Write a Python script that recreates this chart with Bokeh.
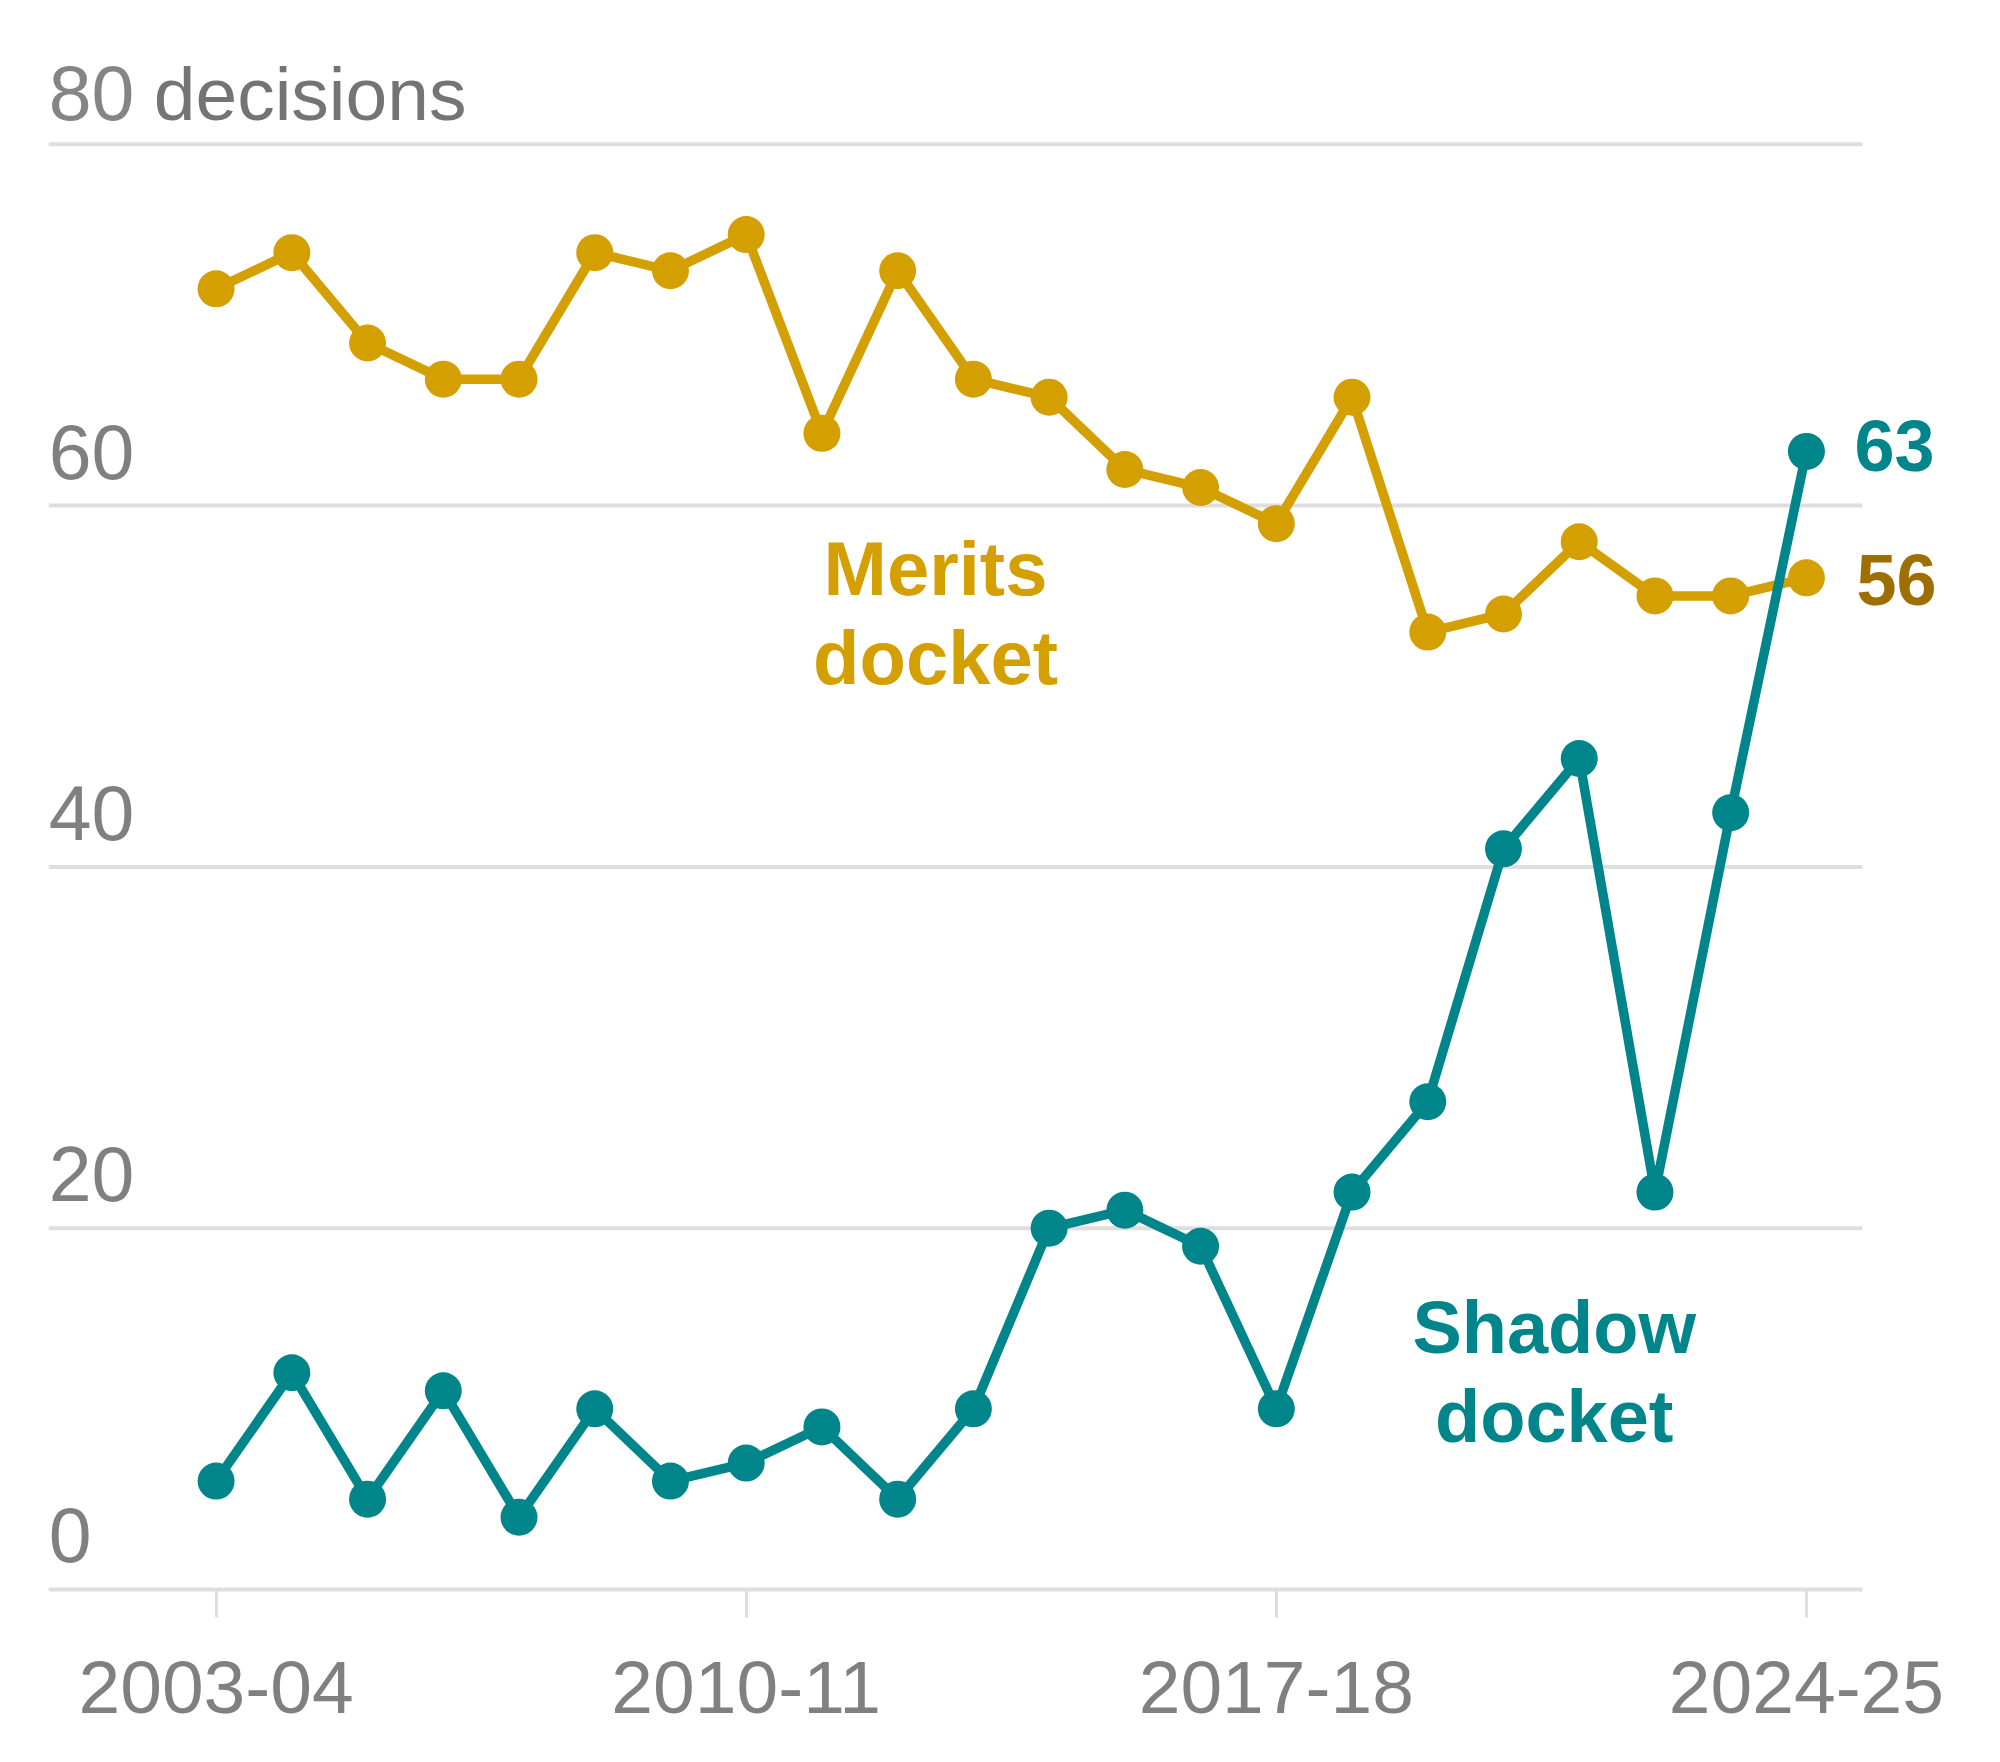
from bokeh.plotting import figure
from bokeh.models import Range1d, FixedTicker, ColumnDataSource
from bokeh.core.properties import value
from bokeh.embed import file_html
from bokeh.resources import INLINE

# Supreme Court terms, 2003-04 through 2024-25
seasons = [f"{y}-{str(y + 1)[-2:]}" for y in range(2003, 2025)]
merits = [72, 74, 69, 67, 67, 74, 73, 75, 64, 73, 67, 66, 62, 61, 59, 66, 53, 54, 58, 55, 55, 56]
shadow = [6, 12, 5, 11, 4, 10, 6, 7, 9, 5, 10, 20, 21, 19, 10, 22, 27, 41, 46, 22, 43, 63]
grid_values = [0, 20, 40, 60, 80]
tick_terms = ["2003-04", "2010-11", "2017-18", "2024-25"]

GOLD = "#d49f00"
GOLD_DARK = "#9e6e00"
TEAL = "#00858a"
GRID = "#dedede"
GRAY = "#808080"
FONT = "Liberation Sans"

idx = list(range(len(seasons)))

p = figure(width=2000, height=1762, output_backend="svg", toolbar_location=None,
           x_range=Range1d(-2.847, 23.563), y_range=Range1d(-0.609, 87.96),
           min_border_left=0, min_border_right=0, min_border_top=0,
           min_border_bottom=162)
p.outline_line_color = None
p.background_fill_color = "white"
p.border_fill_color = "white"
p.xgrid.visible = False
p.ygrid.visible = False
p.yaxis.visible = False

# bottom axis: term labels only
xa = p.xaxis[0]
xa.ticker = FixedTicker(ticks=[seasons.index(t) for t in tick_terms])
xa.major_label_overrides = {seasons.index(t): t for t in tick_terms}
xa.axis_line_color = None
xa.minor_tick_line_color = None
xa.major_tick_line_color = GRID
xa.major_tick_line_width = 3
xa.major_tick_in = 11
xa.major_tick_out = 17
xa.major_label_standoff = 44
xa.major_label_text_font = FONT
xa.major_label_text_font_size = "75px"
xa.major_label_text_color = GRAY

# horizontal gridlines
gx0, gx1 = -2.21, 21.74
p.segment(x0=[gx0] * len(grid_values), x1=[gx1] * len(grid_values),
          y0=grid_values, y1=grid_values, line_color=GRID, line_width=4)

# gridline labels sitting above each line
labels = [str(v) for v in grid_values[:-1]]
p.text(x=[gx0] * len(labels), y=grid_values[:-1], text=labels,
       text_font=value(FONT), text_font_size="77px", text_color=GRAY,
       text_baseline="bottom", text_align="left", y_offset=-27)
p.text(x=[gx0], y=[grid_values[-1]], text=["80"],
       text_font=value(FONT), text_font_size="77px", text_color="#858585",
       text_baseline="bottom", text_align="left", y_offset=-24)
p.text(x=[gx0], y=[grid_values[-1]], text=["decisions"],
       text_font=value(FONT), text_font_size="75px", text_color="#747474",
       text_baseline="bottom", text_align="left", y_offset=-8, x_offset=105)

src = ColumnDataSource(dict(x=idx, merits=merits, shadow=shadow))

# merits docket
p.line("x", "merits", source=src, line_color=GOLD, line_width=9.5)
p.scatter("x", "merits", source=src, size=37, fill_color=GOLD, line_color=None)
# shadow docket
p.line("x", "shadow", source=src, line_color=TEAL, line_width=9.5)
p.scatter("x", "shadow", source=src, size=37, fill_color=TEAL, line_color=None)

# series labels
p.text(x=[9.5, 9.5], y=[56.5, 51.6], text=["Merits", "docket"],
       text_font=value(FONT), text_font_style="bold", text_font_size="76px",
       text_color=GOLD, text_align="center", text_baseline="middle")
p.text(x=[17.67, 17.67], y=[14.5, 9.6], text=["Shadow", "docket"],
       text_font=value(FONT), text_font_style="bold", text_font_size="74px",
       text_color=TEAL, text_align="center", text_baseline="middle")

# end values
last = len(seasons) - 1
p.text(x=[last], y=[shadow[last]], text=[str(shadow[last])],
       text_font=value(FONT), text_font_style="bold", text_font_size="72px",
       text_color=TEAL, text_align="left", text_baseline="middle",
       x_offset=48, y_offset=-5)
p.text(x=[last], y=[merits[last]], text=[str(merits[last])],
       text_font=value(FONT), text_font_style="bold", text_font_size="72px",
       text_color=GOLD_DARK, text_align="left", text_baseline="middle",
       x_offset=50, y_offset=2)

open("out.html", "w").write(file_html(p, INLINE))
